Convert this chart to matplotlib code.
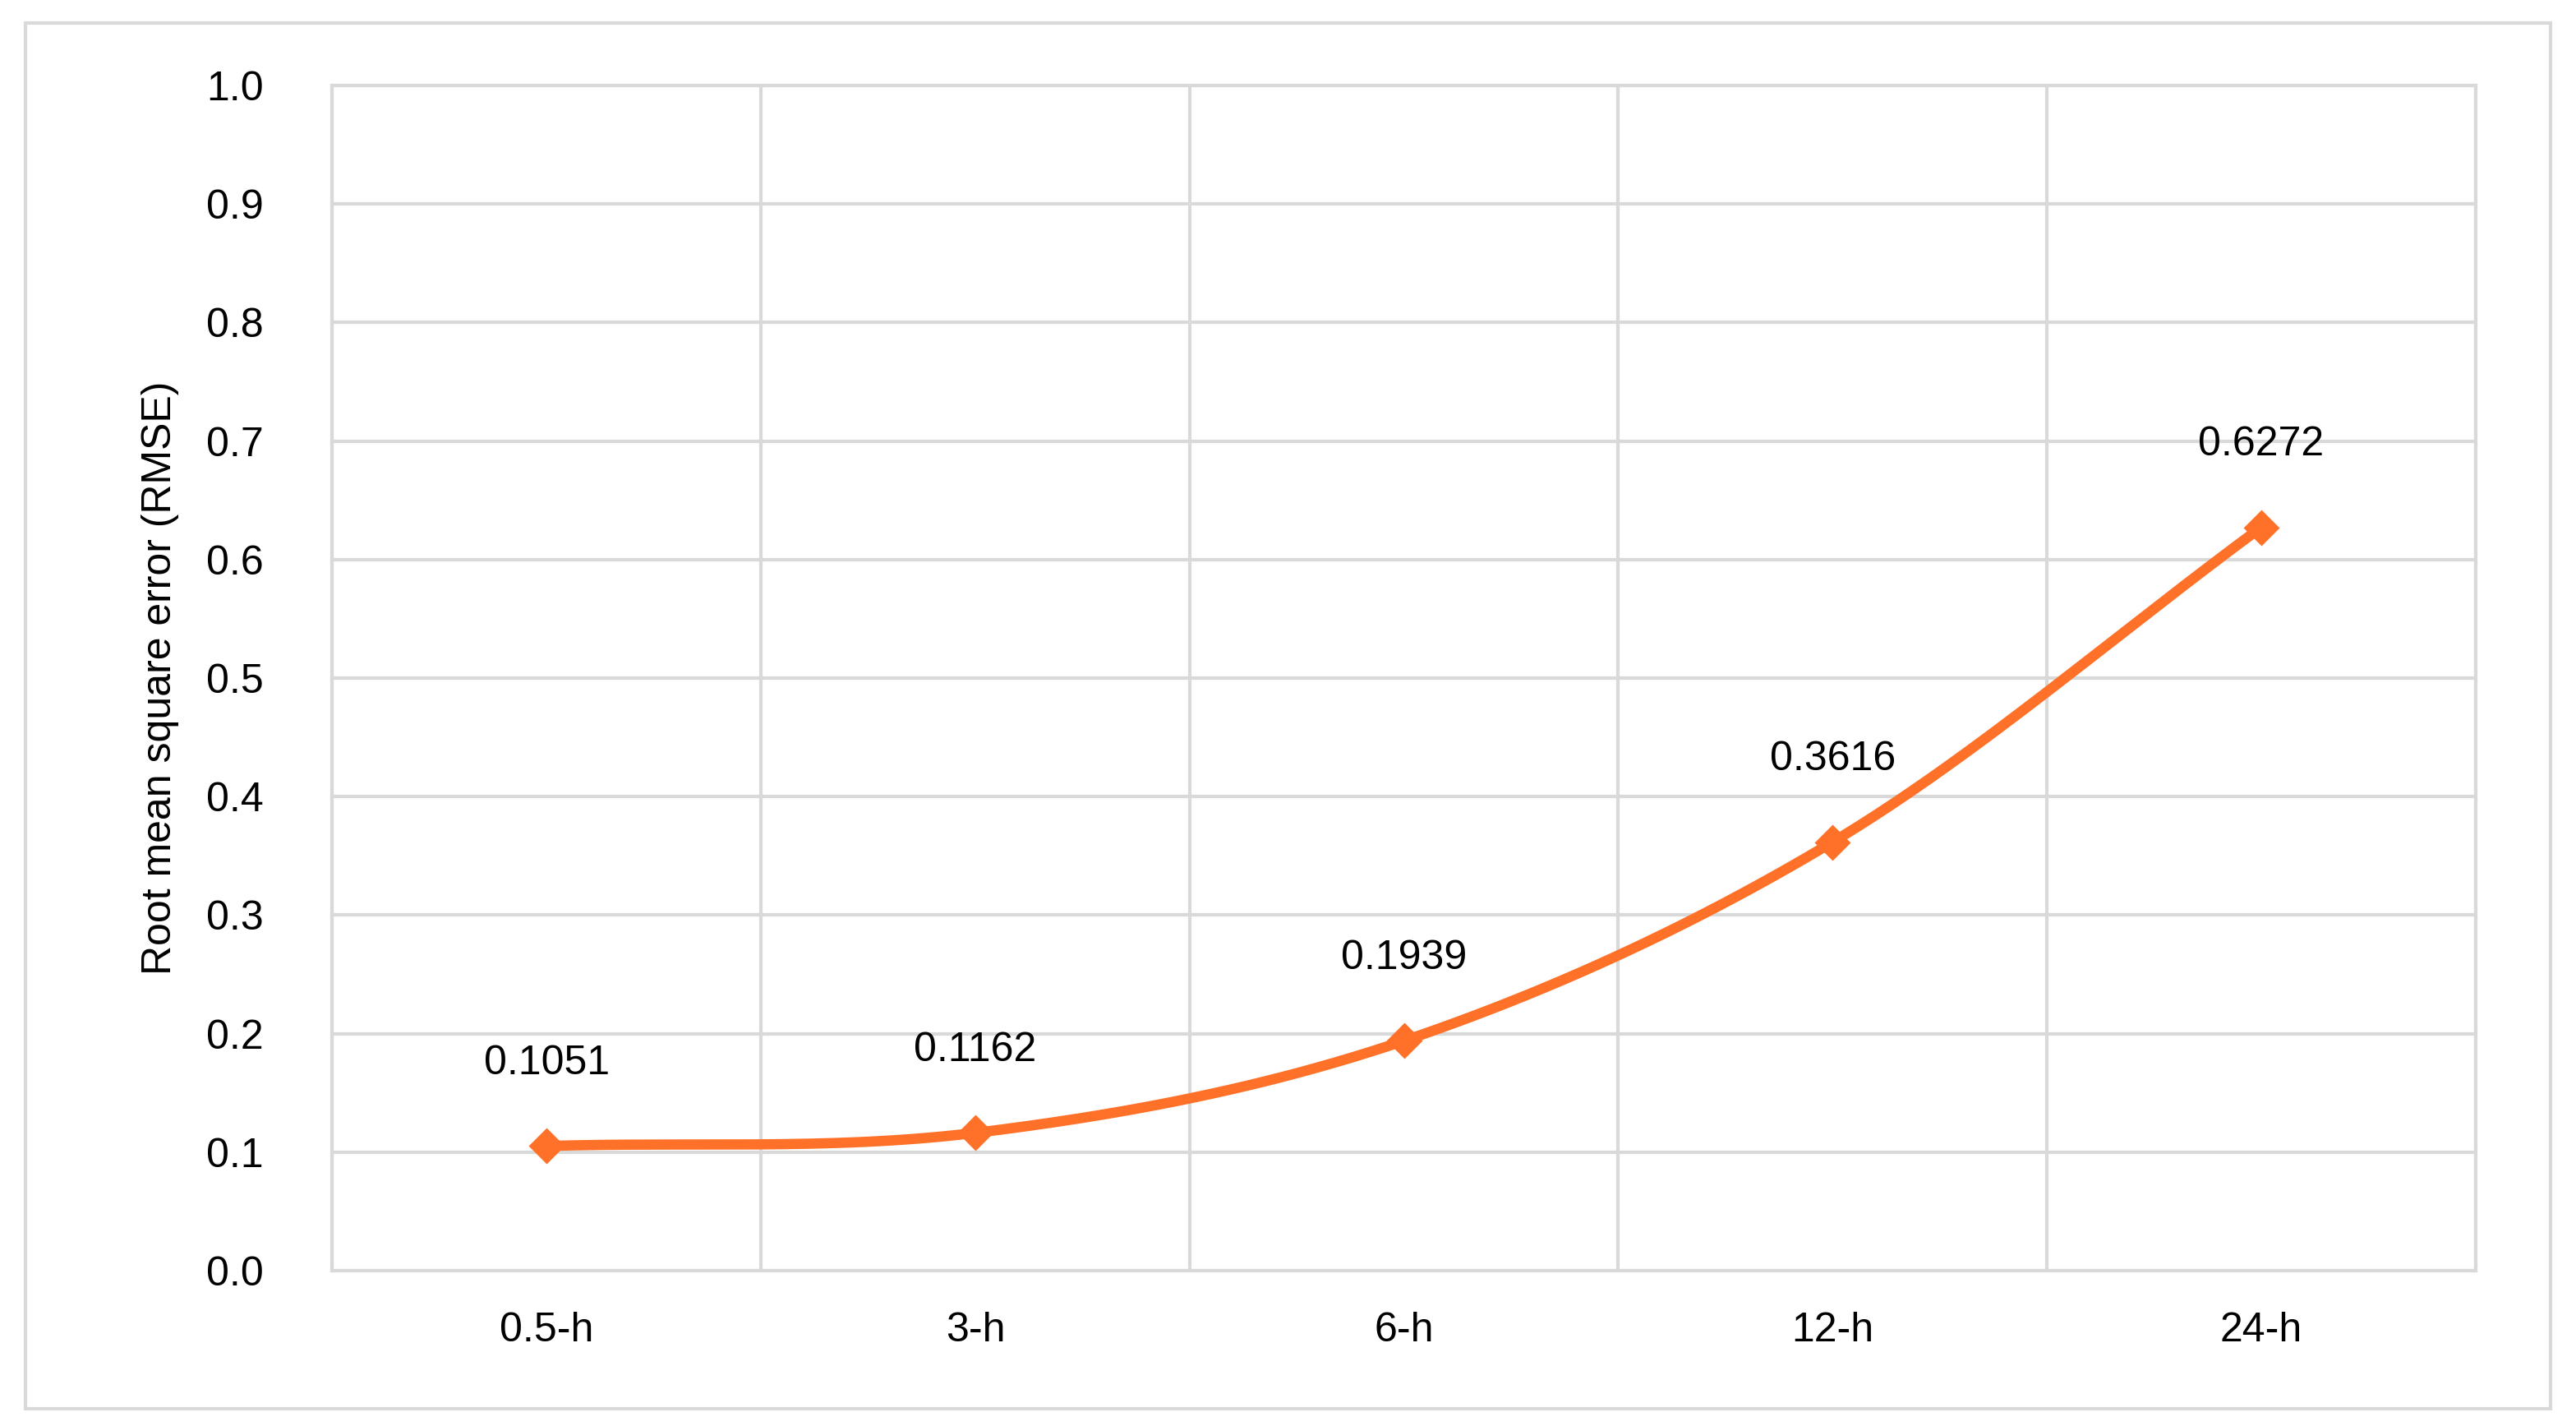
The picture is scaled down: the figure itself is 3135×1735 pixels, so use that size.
import matplotlib
matplotlib.use("Agg")
import matplotlib.pyplot as plt
import numpy as np
from matplotlib.patches import Rectangle

categories = ["0.5-h", "3-h", "6-h", "12-h", "24-h"]
rmse = [0.1051, 0.1162, 0.1939, 0.3616, 0.6272]
labels = ["0.1051", "0.1162", "0.1939", "0.3616", "0.6272"]

plt.rcParams['font.family'] = ['Liberation Sans', 'DejaVu Sans']
fig = plt.figure(figsize=(15.675, 8.675), dpi=200)
ax = fig.add_axes([0.129, 0.109, 0.832, 0.831])
fig.patches.append(Rectangle((0.01, 0.012), 0.98, 0.972, transform=fig.transFigure,
                             fill=False, edgecolor='#d9d9d9', linewidth=1.5))

x = np.arange(len(categories), dtype=float)
y = np.array(rmse)

# Catmull-Rom smoothing (Excel-like smoothed line)
px = np.concatenate([[2*x[0]-x[1]], x, [2*x[-1]-x[-2]]])
py = np.concatenate([[2*y[0]-y[1]], y, [2*y[-1]-y[-2]]])
sx, sy = [], []
t = np.linspace(0, 1, 50)
for i in range(1, len(px)-2):
    for P, out in ((px, sx), (py, sy)):
        p0, p1, p2, p3 = P[i-1], P[i], P[i+1], P[i+2]
        out.extend(0.5*((2*p1) + (-p0+p2)*t + (2*p0-5*p1+4*p2-p3)*t**2 + (-p0+3*p1-3*p2+p3)*t**3))
color = '#FF7128'
ax.plot(sx, sy, color=color, linewidth=4.5, solid_capstyle='round', zorder=3)
ax.plot(x, y, linestyle='none', marker='D', markersize=10, color=color, zorder=4)
for xi, yi, lb in zip(x, y, labels):
    ax.annotate(lb, (xi, yi), xytext=(0, 28), textcoords='offset points',
                ha='center', va='bottom', fontsize=18)

ax.set_xlim(-0.5, len(categories)-0.5)
ax.set_ylim(0, 1.0)
ax.set_yticks(np.arange(0, 1.01, 0.1))
ax.set_yticklabels([f"{v:.1f}" for v in np.arange(0, 1.01, 0.1)])
ax.set_xticks(x)
ax.set_xticklabels(categories)
ax.set_xticks(np.arange(-0.5, len(categories), 1.0), minor=True)
ax.grid(True, axis='y', color='#d9d9d9', linewidth=1.5)
ax.grid(True, axis='x', which='minor', color='#d9d9d9', linewidth=1.5)
ax.set_axisbelow(True)
for s in ax.spines.values():
    s.set_color('#d9d9d9'); s.set_linewidth(1.5)
ax.tick_params(axis='both', which='both', length=0, labelsize=18)
ax.tick_params(axis='x', pad=18)
ax.tick_params(axis='y', pad=30)
ax.set_ylabel("Root mean square error (RMSE)", fontsize=18, labelpad=12)
fig.savefig("out.png", dpi=200)
